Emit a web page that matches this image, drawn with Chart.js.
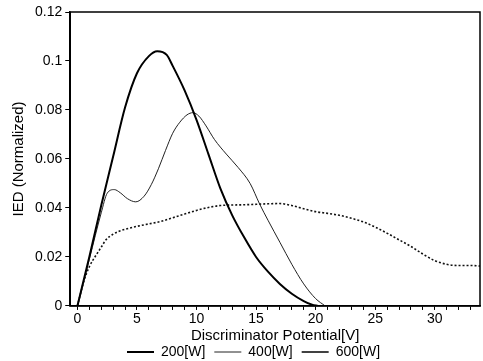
<!DOCTYPE html>
<html>
<head>
<meta charset="utf-8">
<script src="https://cdn.jsdelivr.net/npm/chart.js@4"></script>
<style>
  html, body { margin: 0; padding: 0; background: #fff; }
  #wrap { width: 483px; height: 361px; }
</style>
</head>
<body>
<div id="wrap"><canvas id="myChart" width="483" height="361"></canvas></div>
<script>
// values
const seriesNames = ['200[W]', '400[W]', '600[W]'];

const potential200 = [0, 1, 2, 3, 4, 5, 6, 6.7, 7.5, 8, 9, 10, 11, 12, 13, 14, 15, 16, 17, 18, 19, 19.7, 20.2];
const ied200 = [0, 0.02, 0.041, 0.061, 0.081, 0.095, 0.102, 0.104, 0.1025, 0.098, 0.088, 0.076, 0.062, 0.048, 0.037, 0.028, 0.020, 0.014, 0.009, 0.005, 0.002, 0.0005, 0];

const potential400 = [0, 1, 2, 2.5, 3.1, 3.6, 4.2, 4.9, 5.6, 6.2, 6.8, 7.4, 8, 8.6, 9.2, 9.7, 10.2, 10.8, 11.5, 12.5, 13.5, 14.5, 15.3, 16, 17, 18, 19, 20, 20.8];
const ied400 = [0, 0.019, 0.038, 0.046, 0.0475, 0.0462, 0.0438, 0.0425, 0.0448, 0.0495, 0.056, 0.0635, 0.0705, 0.075, 0.078, 0.0789, 0.0775, 0.0735, 0.068, 0.062, 0.0565, 0.050, 0.0416, 0.035, 0.026, 0.017, 0.009, 0.003, 0];

const potential600 = [0, 0.6, 1, 1.6, 2, 2.4, 3, 3.5, 4, 5, 6, 7, 8, 9, 10, 11, 12, 13, 14, 15, 16, 17, 18, 19, 20, 21, 22, 23, 24, 25, 26, 27, 28, 29, 30, 31, 32, 33, 33.8];
const ied600 = [0, 0.011, 0.016, 0.021, 0.024, 0.027, 0.0293, 0.0305, 0.0313, 0.0325, 0.0335, 0.0345, 0.036, 0.0375, 0.039, 0.0402, 0.041, 0.0412, 0.0413, 0.0415, 0.0417, 0.0418, 0.041, 0.0397, 0.0385, 0.0378, 0.0370, 0.0358, 0.0343, 0.0322, 0.0297, 0.0270, 0.0243, 0.0212, 0.0185, 0.017, 0.0165, 0.0165, 0.0163];

const xLabelEvery = 5;
const yTicks = [0, 0.02, 0.04, 0.06, 0.08, 0.1, 0.12];

const toPoints = (xs, ys) => xs.map((x, i) => ({ x: x, y: ys[i] }));

// box round the plot area (top and right sides), legend nudged right a bit
const frame = {
  id: 'frame',
  afterLayout(chart) {
    chart.legend.left += 12;
    chart.legend.right += 12;
  },
  afterDraw(chart) {
    const { ctx, chartArea } = chart;
    ctx.save();
    ctx.strokeStyle = '#000';
    ctx.lineWidth = 1.5;
    ctx.strokeRect(chartArea.left, chartArea.top, chartArea.right - chartArea.left, chartArea.bottom - chartArea.top);
    ctx.restore();
  }
};

const ctx = document.getElementById('myChart');
new Chart(ctx, {
  type: 'line',
  data: {
    datasets: [{
      label: seriesNames[0],
      data: toPoints(potential200, ied200),
      borderColor: '#000',
      borderWidth: 2,
      cubicInterpolationMode: 'monotone',
      pointRadius: 0
    }, {
      label: seriesNames[1],
      data: toPoints(potential400, ied400),
      borderColor: '#222',
      borderWidth: 1,
      cubicInterpolationMode: 'monotone',
      pointRadius: 0
    }, {
      label: seriesNames[2],
      data: toPoints(potential600, ied600),
      borderColor: '#111',
      borderWidth: 1.6,
      borderDash: [2, 2],
      cubicInterpolationMode: 'monotone',
      pointRadius: 0
    }]
  },
  plugins: [frame],
  options: {
    responsive: false,
    animation: false,
    layout: { padding: { top: 12, right: 3, left: 10, bottom: -8 } },
    plugins: {
      tooltip: { enabled: false },
      legend: {
        position: 'bottom',
        labels: {
          color: '#000',
          font: { family: 'Liberation Sans', size: 14 },
          usePointStyle: true,
          pointStyle: 'line',
          pointStyleWidth: 27,
          boxWidth: 27,
          padding: 2,
          generateLabels: (chart) => Chart.defaults.plugins.legend.labels.generateLabels(chart)
            .map((item) => Object.assign(item, { text: item.text + '\u2002' }))
        }
      }
    },
    scales: {
      x: {
        type: 'linear',
        min: -0.6,
        max: 33.8,
        border: { color: '#000', width: 1.5 },
        grid: { drawOnChartArea: false, drawTicks: true, tickLength: 4, color: '#000' },
        ticks: {
          stepSize: 1,
          includeBounds: false,
          autoSkip: false,
          maxRotation: 0,
          padding: 1,
          color: '#000',
          font: { family: 'Liberation Sans', size: 14 },
          callback: (v) => (v % xLabelEvery === 0 ? String(v) : '')
        },
        title: {
          display: true,
          text: 'Discriminator Potential[V]',
          color: '#000',
          font: { family: 'Liberation Sans', size: 15, lineHeight: 0.95 },
          padding: { top: 0, bottom: 0 }
        }
      },
      y: {
        min: 0,
        max: 0.12,
        border: { color: '#000', width: 1.5 },
        grid: { drawOnChartArea: false, drawTicks: true, tickLength: 5, color: '#000' },
        afterBuildTicks: (axis) => { axis.ticks = yTicks.map((v) => ({ value: v })); },
        ticks: {
          padding: 3,
          color: '#000',
          font: { family: 'Liberation Sans', size: 14 },
          callback: (v) => String(+v.toFixed(2))
        },
        title: {
          display: true,
          text: 'IED (Normalized)',
          color: '#000',
          font: { family: 'Liberation Sans', size: 15 },
          padding: { top: 0, bottom: 4 }
        }
      }
    }
  }
});
</script>
</body>
</html>
